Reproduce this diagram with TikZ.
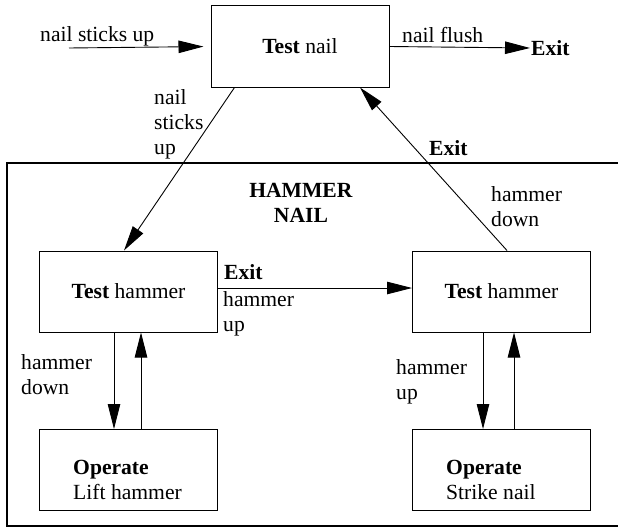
\documentclass[tikz,border=0pt]{standalone}
\usepackage{fontspec}
\setmainfont{Liberation Serif}
\usetikzlibrary{arrows.meta,calc}
\begin{document}
\begin{tikzpicture}[x=1pt,y=-1pt,
 every node/.style={font=\fontsize{21.6}{25}\selectfont},
 box/.style={draw,line width=1pt,minimum width=178pt,minimum height=81pt,inner sep=0pt},
 lbl/.style={inner sep=0pt,align=left,anchor=west},
 arr/.style={line width=0.9pt,-{Triangle[length=25pt,width=12.5pt]}},
 frame/.style={line width=1.2pt}]
\useasboundingbox (0,0) rectangle (618,527);
% frame
\draw[frame] (618,163) coordinate (fr1) -- (7,163) -- (7,526) -- (618,526) coordinate (fr2);
% boxes
\node[box] (tn) at (300,46.5) {\textbf{Test} nail};
\node[box] (th1) at (128.5,291.5) {\textbf{Test} hammer};
\node[box] (th2) at (501.5,291.5) {\textbf{Test} hammer};
\node[box] (op1) at (128.5,470) {};
\node[box] (op2) at (501.5,470) {};
\node[lbl] (op1t) at (73,480) {\textbf{Operate}\\Lift hammer};
\node[lbl] (op2t) at (446,480) {\textbf{Operate}\\Strike nail};
% labels
\node[lbl] (in) at (40,36) {nail sticks up};
\coordinate (instart) at (69,48);
\node[lbl] (flush) at (402,35) {nail flush};
\node[lbl,inner sep=1pt] (exit) at (530,48) {\textbf{Exit}};
\node[lbl] (nsu) at (154,124) {nail\\sticks\\up};
\node[lbl] (exit2) at (429,148) {\textbf{Exit}};
\node[inner sep=0pt,align=center] (hn) at (301,202.5) {\textbf{HAMMER}\\\textbf{NAIL}};
\node[lbl] (hd2) at (491,207) {hammer\\down};
\node[lbl] (exit3) at (224,272) {\textbf{Exit}};
\node[lbl] (hu1) at (223,314) {hammer\\up};
\node[lbl] (hd1) at (21,375) {hammer\\down};
\node[lbl] (hu2) at (396,382) {hammer\\up};
% connectors
\draw[arr,shorten >=7pt] (instart) -- (tn.west);
\draw[arr] (tn.east) -- (exit.west);
\draw[arr] ($(tn.south west)+(24,0)$) -- ($(th1.north)+(-4.5,0)$);
\draw[arr] ($(th2.north)+(5.5,0)$) -- ($(tn.south)+(60,0)$);
\draw[arr] ($(th1.east)+(0,-3.5)$) -- ($(th2.west)+(0,-3.5)$);
\draw[arr] ($(th1.south)+(-14.5,0)$) -- ($(op1.north)+(-14.5,0)$);
\draw[arr] ($(op1.north)+(12.5,0)$) -- ($(th1.south)+(12.5,0)$);
\draw[arr] ($(th2.south)+(-18.5,0)$) -- ($(op2.north)+(-18.5,0)$);
\draw[arr] ($(op2.north)+(12.5,0)$) -- ($(th2.south)+(12.5,0)$);
\end{tikzpicture}
\end{document}
